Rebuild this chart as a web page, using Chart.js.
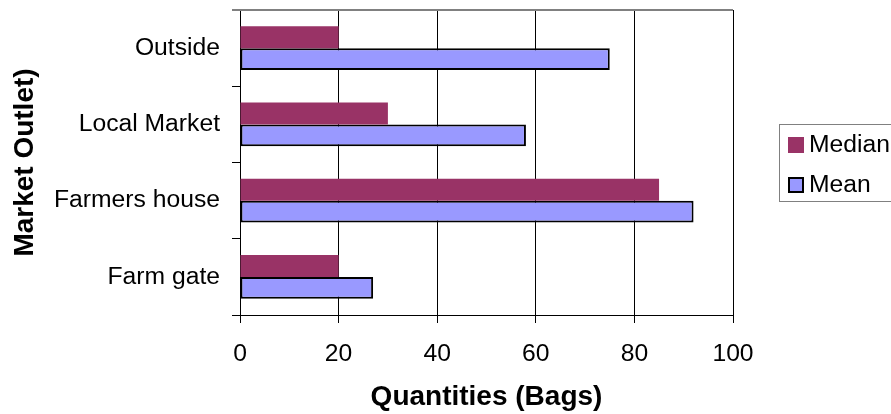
<!DOCTYPE html>
<html>
<head>
<meta charset="utf-8">
<title>Market Outlet Quantities</title>
<script src="https://cdn.jsdelivr.net/npm/chart.js@4"></script>
<style>
  html, body { margin: 0; padding: 0; background: #fff; }
  .chart-wrap { position: relative; width: 891px; height: 414px; }
</style>
</head>
<body>
<div class="chart-wrap"><canvas id="outletChart"></canvas></div>
<script>
/* ============================================
   Quantities sold per market outlet (bags)
   ============================================ */
const outlets    = ['Outside', 'Local Market', 'Farmers house', 'Farm gate'];
const medianBags = [20, 30, 85, 20];
const meanBags   = [75, 58, 92, 27];
const bagTicks   = [0, 20, 40, 60, 80, 100];

const FONT = "'Liberation Sans', Arial, sans-serif";

// Boxed legend to the right of the plot, like the spreadsheet original
const boxLegend = {
  id: 'boxLegend',
  afterDraw(chart) {
    const ctx = chart.ctx;
    const x = chart.chartArea.right + 46;
    const top = 124;
    ctx.save();
    ctx.strokeStyle = '#808080';
    ctx.lineWidth = 1;
    ctx.strokeRect(x + 0.5, top + 0.5, 200, 77);

    ctx.font = `24.7px ${FONT}`;
    ctx.textBaseline = 'middle';
    ctx.fillStyle = '#000';
    chart.data.datasets.forEach((ds, i) => {
      const cy = top + 21 + i * 40;
      ctx.fillStyle = ds.backgroundColor;
      ctx.fillRect(x + 9, cy - 8, 16, 16);
      if (ds.borderWidth) {
        ctx.strokeStyle = ds.borderColor;
        ctx.lineWidth = 2;
        ctx.strokeRect(x + 10, cy - 7, 14, 14);
      }
      ctx.fillStyle = '#000';
      ctx.fillText(ds.label, x + 30, cy);
    });
    ctx.restore();
  }
};

// Gray frame line across the top of the plot
const topFrame = {
  id: 'topFrame',
  afterDatasetsDraw(chart) {
    const { ctx, chartArea } = chart;
    ctx.save();
    ctx.strokeStyle = '#808080';
    ctx.lineWidth = 2;
    ctx.beginPath();
    ctx.moveTo(chartArea.left - 8, chartArea.top);
    ctx.lineTo(chartArea.right, chartArea.top);
    ctx.stroke();
    ctx.restore();
  }
};

new Chart(document.getElementById('outletChart'), {
  type: 'bar',
  data: {
    labels: outlets,
    datasets: [
      {
        label: 'Median',
        data: medianBags,
        backgroundColor: '#993366',
        borderWidth: 0,
      },
      {
        label: 'Mean',
        data: meanBags,
        backgroundColor: '#9999FF',
        borderColor: '#000',
        borderWidth: 2,
        borderSkipped: false,
      },
    ],
  },
  options: {
    indexAxis: 'y',
    responsive: true,
    maintainAspectRatio: false,
    animation: false,
    categoryPercentage: 0.577,
    barPercentage: 1,
    layout: { padding: { left: 0, top: 10, right: 158, bottom: 0 } },
    plugins: {
      legend: { display: false },
      tooltip: { enabled: false },
    },
    scales: {
      x: {
        min: 0,
        max: 100,
        afterBuildTicks: (axis) => { axis.ticks = bagTicks.map(v => ({ value: v })); },
        afterFit: (axis) => { axis.height = 99; axis.paddingLeft = 0; axis.paddingRight = 0; },
        grid: { color: '#000', lineWidth: 1, tickLength: 8, drawTicks: true },
        border: { color: '#000', width: 1 },
        ticks: { color: '#000', padding: 16, font: { family: FONT, size: 24.7 } },
        title: {
          display: true,
          text: 'Quantities (Bags)',
          color: '#000',
          padding: { top: 0, bottom: 0 },
          font: { family: FONT, size: 28, weight: 'bold' },
        },
      },
      y: {
        // labels sit mid-band, so no extra room is needed above or below the plot
        afterFit: (axis) => { axis.width = 240; axis.paddingTop = 0; axis.paddingBottom = 0; },
        grid: { drawOnChartArea: false, color: '#000', tickLength: 8, offset: true },
        border: { color: '#000', width: 1 },
        ticks: { color: '#000', padding: 12, font: { family: FONT, size: 24.7 } },
        title: {
          display: true,
          text: 'Market Outlet)',
          color: '#000',
          padding: { top: 8, bottom: 0 },
          font: { family: FONT, size: 28, weight: 'bold' },
        },
      },
    },
  },
  plugins: [topFrame, boxLegend],
});
</script>
</body>
</html>
